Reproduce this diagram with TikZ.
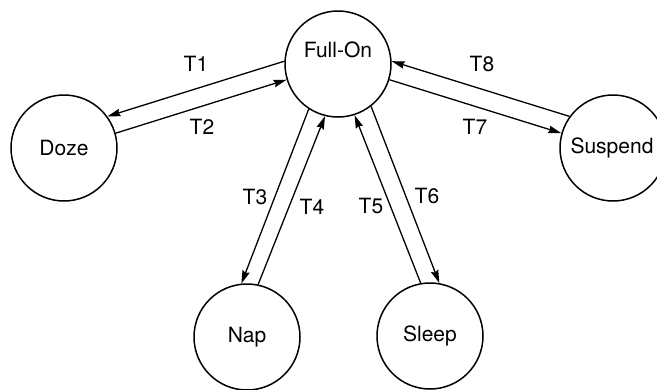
\documentclass[tikz,border=0pt]{standalone}
\usepackage{fontspec}
\setmainfont{TeX Gyre Heros}
\usetikzlibrary{arrows.meta}

\tikzset{
  state/.style={draw, circle, line width=1.5pt, minimum size=106pt, inner sep=0pt,
    font=\fontsize{21}{24}\selectfont},
  tlabel/.style={font=\fontsize{21}{24}\selectfont, inner sep=0pt},
  trans/.style={line width=1.3pt, -{Stealth[length=13pt,width=7.5pt,inset=1.5pt]}}
}

\begin{document}
\begin{tikzpicture}[x=1pt, y=-1pt]
    \useasboundingbox (0,0) rectangle (657,389);

    % States
    \node[state] (full) at (338,64) {};
    \node[tlabel] at (338,50) {Full-On};
    \node[state] (doze) at (64,148) {Doze};
    \node[state] (suspend) at (613,148) {};
    \node[tlabel] at (612,148) {Suspend};
    \node[state] (nap) at (247,337) {Nap};
    \node[state] (sleep) at (430,336) {Sleep};

    % Transitions
    \draw[trans] (full.177) -- (doze.36);
    \draw[trans] (doze.16) -- (full.197);
    \draw[trans] (full.237) -- (nap.96);
    \draw[trans] (nap.78) -- (full.256);
    \draw[trans] (sleep.100) -- (full.288);
    \draw[trans] (full.308) -- (sleep.80);
    \draw[trans] (full.343) -- (suspend.164);
    \draw[trans] (suspend.144) -- (full.3);

    % Labels
    \node[tlabel] (t1) at (196,64) {T1};
    \node[tlabel] (t2) at (202,127) {T2};
    \node[tlabel] (t3) at (255,197) {T3};
    \node[tlabel] (t4) at (312,207) {T4};
    \node[tlabel] (t5) at (371,206) {T5};
    \node[tlabel] (t6) at (427,196) {T6};
    \node[tlabel] (t7) at (475,127) {T7};
    \node[tlabel] (t8) at (482,64) {T8};
\end{tikzpicture}
\end{document}
